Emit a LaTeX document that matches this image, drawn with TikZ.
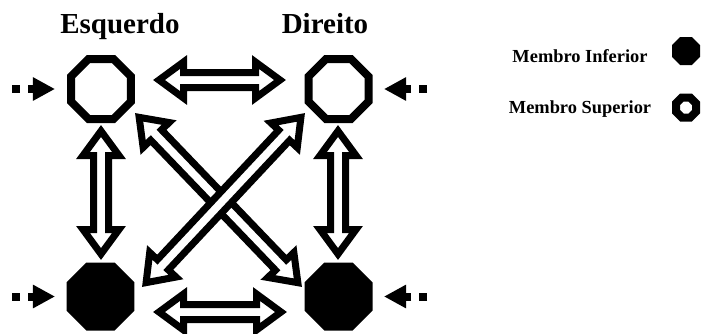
\documentclass[tikz,border=0pt]{standalone}
\usepackage{fontspec}
\setmainfont{Liberation Serif}
\usetikzlibrary{arrows.meta,shapes.geometric,calc}
\tikzset{
  octo/.style={regular polygon, regular polygon sides=8, minimum size=#1,
    inner sep=0pt, outer sep=0pt, draw=black, line width=8pt},
  hollow/.style={fill=white},
  filled/.style={fill=black},
  blockstyle/.style={draw=black, fill=white, line width=7pt, line join=miter, miter limit=10},
  sidearrow/.style={line width=8pt, dash pattern=on 8pt off 8pt,
    -{Triangle[length=22pt,width=22pt]}},
  titletext/.style={font=\fontsize{29}{34}\selectfont\bfseries, anchor=base},
  legendtext/.style={font=\fontsize{18.4}{22}\selectfont\bfseries, anchor=base},
}
\newcommand\blockarrow[2]{%
  \path let \p1=(#1), \p2=(#2) in
    \pgfextra{\pgfmathsetmacro\barangtmp{atan2(\y2-\y1,\x2-\x1)}%
      \pgfmathsetmacro\barlentmp{veclen(\x2-\x1,\y2-\y1)}%
      \global\let\barang\barangtmp\global\let\barlen\barlentmp};
  \begin{scope}[shift={(#1)}, rotate=\barang]
    \draw[blockstyle] (6,0) -- (30.5,18) -- (30.5,7.5) -- (\barlen-30.5,7.5)
      -- (\barlen-30.5,18) -- (\barlen-6,0) -- (\barlen-30.5,-18)
      -- (\barlen-30.5,-7.5) -- (30.5,-7.5) -- (30.5,-18) -- cycle;
  \end{scope}}
\begin{document}
\begin{tikzpicture}[x=1pt, y=-1pt]
\useasboundingbox (0,0) rectangle (703,333);

% titles
\node[titletext] (esq) at (120,33) {Esquerdo};
\node[titletext] (dir) at (325,33) {Direito};

% octagons
\node[octo=64.94pt, hollow] (TL) at (101,89) {};
\node[octo=64.94pt, hollow] (TR) at (338.5,89) {};
\node[octo=64.94pt, filled] (BL) at (100.5,296.5) {};
\node[octo=64.94pt, filled] (BR) at (338.5,296.5) {};

% legend
\node[legendtext] (linf) at (580,62) {Membro Inferior};
\node[legendtext] (lsup) at (580,113) {Membro Superior};
\node[octo=21.65pt, filled] (oinf) at (686,51) {};
\node[octo=21.65pt, hollow] (osup) at (686,107.5) {};

% block arrow end points
\coordinate (h1a) at (153,80);   \coordinate (h1b) at (286,80);
\coordinate (h2a) at (153,312);  \coordinate (h2b) at (287,312);
\coordinate (v1a) at (101,125);  \coordinate (v1b) at (101,260);
\coordinate (v2a) at (338,125);  \coordinate (v2b) at (338,260);
\coordinate (d1a) at (135,113);  \coordinate (d1b) at (302,287);
\coordinate (d2a) at (142,287);  \coordinate (d2b) at (305,113);

\blockarrow{h1a}{h1b}
\blockarrow{h2a}{h2b}
\blockarrow{v1a}{v1b}
\blockarrow{v2a}{v2b}
\blockarrow{d1a}{d1b}
\blockarrow{d2a}{d2b}

% side dashed arrows
\coordinate (s1) at (12,89);
\coordinate (s2) at (427,89);
\coordinate (s3) at (12,296.5);
\coordinate (s4) at (427,296.5);
\draw[sidearrow, shorten >=16pt] (s1) -- (TL.west);
\draw[sidearrow, shorten >=15.5pt] (s2) -- (TR.east);
\draw[sidearrow, shorten >=15.5pt] (s3) -- (BL.west);
\draw[sidearrow, shorten >=15.5pt] (s4) -- (BR.east);
\end{tikzpicture}
\end{document}
